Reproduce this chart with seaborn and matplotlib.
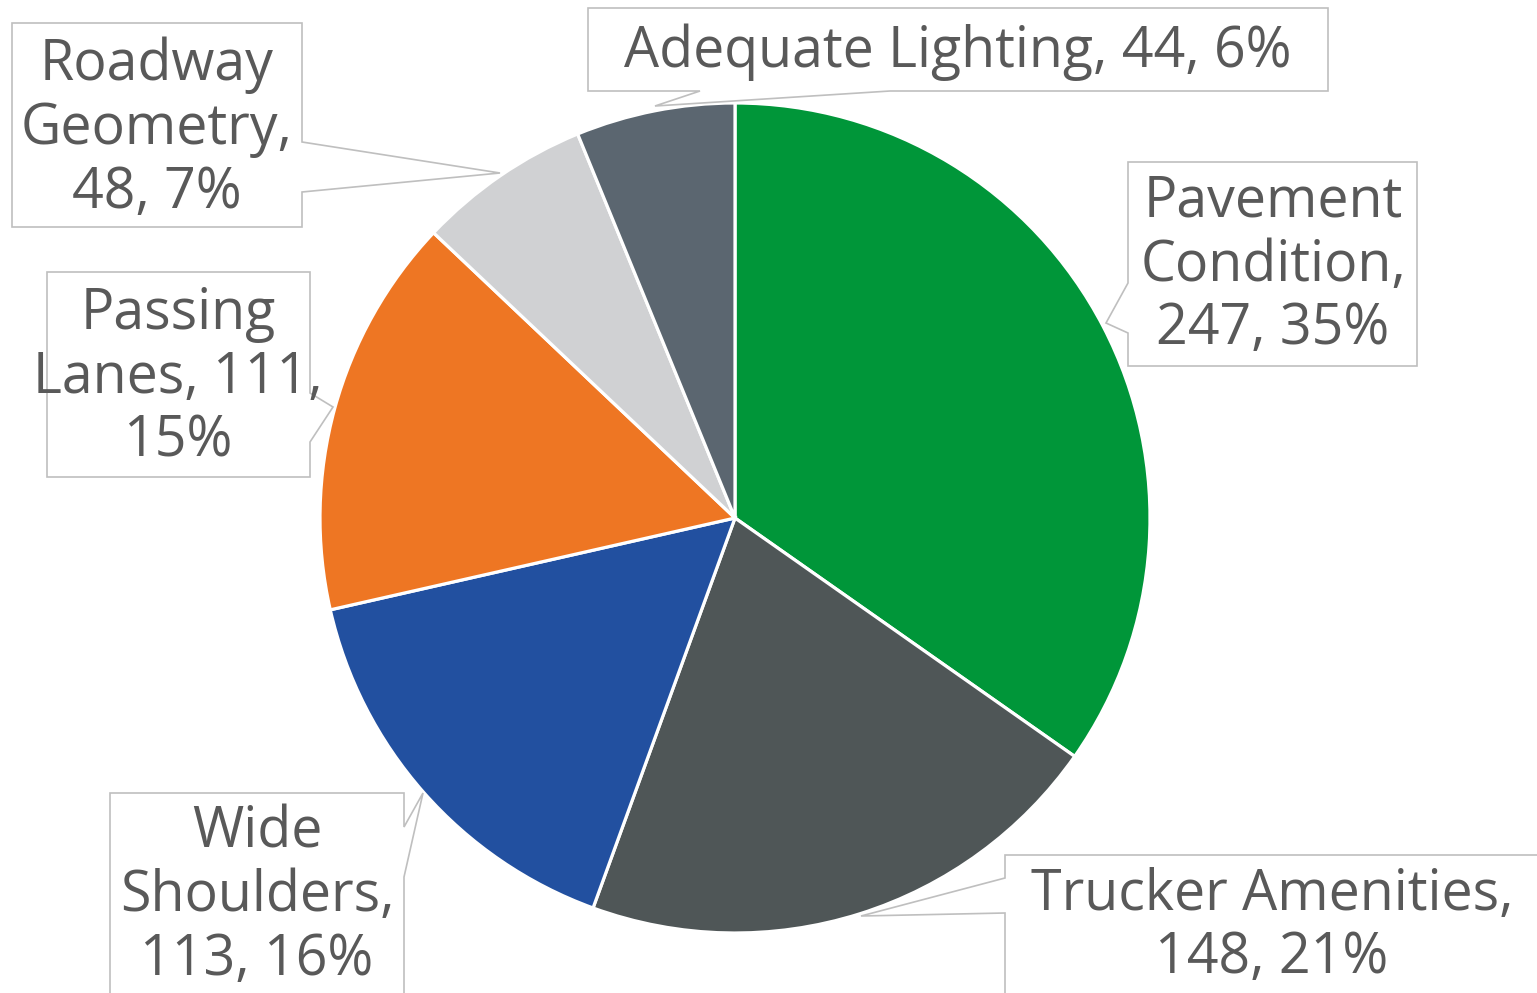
import matplotlib
matplotlib.use("Agg")
import matplotlib.pyplot as plt
from matplotlib.patches import Polygon
import seaborn as sns

categories = ["Pavement Condition", "Trucker Amenities", "Wide Shoulders",
              "Passing Lanes", "Roadway Geometry", "Adequate Lighting"]
counts = [247, 148, 113, 111, 48, 44]
label_texts = ["Pavement\nCondition,\n247, 35%", "Trucker Amenities,\n148, 21%",
               "Wide\nShoulders,\n113, 16%", "Passing\nLanes, 111,\n15%",
               "Roadway\nGeometry,\n48, 7%", "Adequate Lighting, 44, 6%"]
colors = ["#009639", "#4F5657", "#2250A0", "#EE7623", "#D0D1D3", "#5B6670"]

W, H = 1537, 993
CX, CY, R = 735, 518, 415

# callout layout in pixel coords: box, side of pointer, pointer base span, tip
callouts = [
    dict(box=(1128, 162, 1417, 366), side="left", span=(283, 333), tip=(1106, 323), txt=(1273, 266)),
    dict(box=(1005, 855, 1560, 1010), side="left", span=(878, 913), tip=(861, 916), txt=(1272, 927)),
    dict(box=(110, 793, 404, 1010), side="right", span=(827, 877), tip=(423, 793), txt=(257, 897)),
    dict(box=(47, 272, 310, 477), side="right", span=(393, 442), tip=(333, 407), txt=(178, 378)),
    dict(box=(12, 23, 302, 227), side="right", span=(142, 192), tip=(500, 173), txt=(157, 129)),
    dict(box=(588, 8, 1328, 91), side="bottom", span=(700, 890), tip=(655, 106), txt=(958, 52)),
]


def callout_vertices(box, side, span, tip):
    x0, y0, x1, y1 = box
    a, b = span
    pts = [(x0, y0)]
    if side == "top":
        pts += [(a, y0), tip, (b, y0)]
    pts.append((x1, y0))
    if side == "right":
        pts += [(x1, a), tip, (x1, b)]
    pts.append((x1, y1))
    if side == "bottom":
        pts += [(b, y1), tip, (a, y1)]
    pts.append((x0, y1))
    if side == "left":
        pts += [(x0, b), tip, (x0, a)]
    return pts


sns.set_theme(style="white")
plt.rcParams["font.family"] = ["Open Sans", "DejaVu Sans"]

fig = plt.figure(figsize=(W / 100, H / 100), dpi=100)
ax = fig.add_axes([0, 0, 1, 1])

ax.pie(counts, colors=sns.color_palette(colors), startangle=-90, counterclock=True,
       radius=R, center=(CX, CY),
       wedgeprops=dict(edgecolor="white", linewidth=2.3))

for c, txt in zip(callouts, label_texts):
    poly = Polygon(callout_vertices(c["box"], c["side"], c["span"], c["tip"]),
                   closed=True, facecolor="white", edgecolor="#BFBFBF", linewidth=1.2, zorder=3)
    ax.add_patch(poly)
    ax.text(c["txt"][0], c["txt"][1], txt, ha="center", va="center", multialignment="center",
            fontsize=40, color="#595959", linespacing=1.16, zorder=4)

ax.set_xlim(0, W)
ax.set_ylim(H, 0)
ax.set_aspect("equal")
ax.axis("off")

fig.savefig("out.png", dpi=100)
plt.close(fig)
